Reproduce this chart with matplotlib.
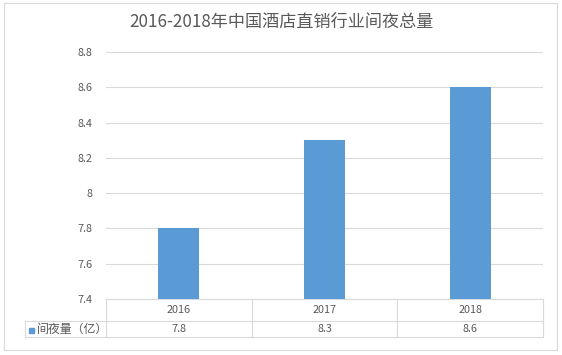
import matplotlib.pyplot as plt
from matplotlib.patches import Rectangle
from matplotlib.lines import Line2D

plt.rcParams['font.family'] = ['Noto Sans CJK SC', 'DejaVu Sans']

years = ['2016', '2017', '2018']
values = [7.8, 8.3, 8.6]
series_name = '间夜量（亿）'
title = '2016-2018年中国酒店直销行业间夜总量'
yticks = [7.4, 7.6, 7.8, 8.0, 8.2, 8.4, 8.6, 8.8]
ytick_labels = ['7.4', '7.6', '7.8', '8', '8.2', '8.4', '8.6', '8.8']

W, H = 562, 355
bar_color = '#5B9BD5'
grid_color = '#d9d9d9'
text_color = '#595959'

fig = plt.figure(figsize=(W / 100, H / 100), dpi=100)

def fx(px):
    return px / W

def fy(py):
    return 1 - py / H

# plot area in pixels
x0, x1 = 106, 543
y_top, y_bot = 52, 299
ax = fig.add_axes([fx(x0), fy(y_bot), fx(x1) - fx(x0), fy(y_top) - fy(y_bot)])

pos = list(range(len(years)))
ax.bar(pos, values, width=0.28, color=bar_color, zorder=3)
ax.set_xlim(-0.5, len(years) - 0.5)
ax.set_ylim(7.4, 8.8)
ax.set_yticks(yticks)
ax.set_yticklabels(ytick_labels, color=text_color, fontsize=7.8)
ax.set_xticks([])
ax.tick_params(axis='y', length=0, pad=10)
ax.grid(axis='y', color=grid_color, linewidth=0.8, zorder=0)
for s in ['top', 'right', 'left']:
    ax.spines[s].set_visible(False)
ax.spines['bottom'].set_color(grid_color)
ax.spines['bottom'].set_linewidth(0.8)

fig.text(0.5, fy(22), title, ha='center', va='center', fontsize=12.3, color=text_color)

# data table below the plot
row1_bot, row2_bot = 321, 337
legend_left = 25
col_w = (x1 - x0) / len(years)
lines = []
for i in range(len(years) + 1):
    xp = x0 + i * col_w
    lines.append(((xp, xp), (y_bot, row2_bot)))
lines.append(((legend_left, x1), (row1_bot, row1_bot)))
lines.append(((legend_left, x1), (row2_bot, row2_bot)))
lines.append(((legend_left, legend_left), (row1_bot, row2_bot)))
for xs, ys in lines:
    fig.add_artist(Line2D([fx(xs[0]), fx(xs[1])], [fy(ys[0]), fy(ys[1])],
                          color=grid_color, linewidth=0.8))

for i, (yr, v) in enumerate(zip(years, values)):
    cx = x0 + (i + 0.5) * col_w
    fig.text(fx(cx), fy((y_bot + row1_bot) / 2), yr, ha='center', va='center',
             fontsize=7.8, color=text_color)
    fig.text(fx(cx), fy((row1_bot + row2_bot) / 2), f'{v:g}', ha='center', va='center',
             fontsize=7.8, color=text_color)

fig.add_artist(Rectangle((fx(29), fy(333)), fx(5), fy(328) - fy(333), color=bar_color))
fig.text(fx(37), fy((row1_bot + row2_bot) / 2), series_name, ha='left', va='center',
         fontsize=8.6, color=text_color)

# outer chart border
fig.add_artist(Rectangle((fx(4), fy(350)), fx(557) - fx(4), fy(3) - fy(350),
                         fill=False, edgecolor=grid_color, linewidth=0.8))

fig.savefig('out.png', dpi=100)
